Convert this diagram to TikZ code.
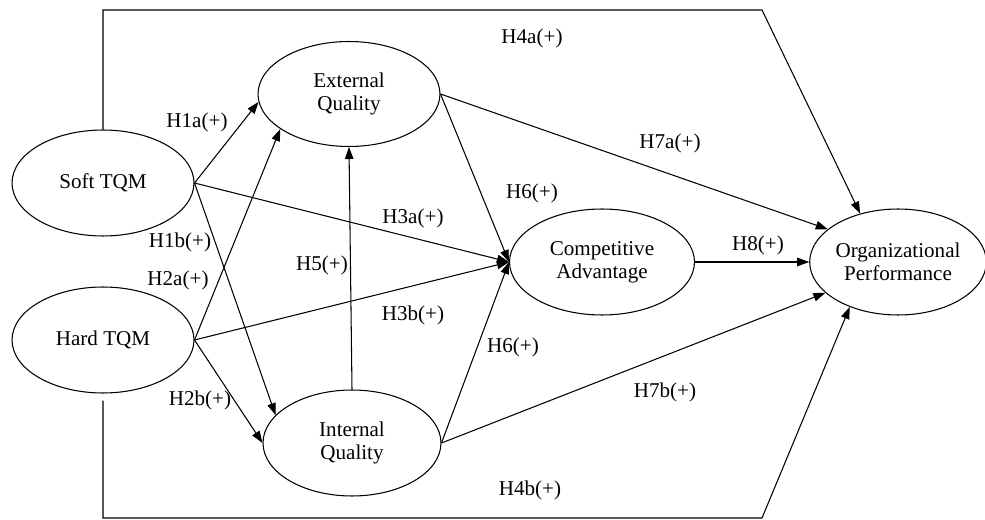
\documentclass[tikz,border=0pt]{standalone}
\usepackage{fontspec}
\setmainfont{Liberation Serif}
\usetikzlibrary{arrows.meta,shapes.geometric}
\tikzset{
    tqmconstruct/.style={draw, ellipse, align=center, inner sep=0pt, line width=0.6pt, minimum width=3.64cm, minimum height=2.12cm, font=\fontsize{12}{13}\selectfont},
    tqmarrow/.style={draw, -{Triangle[length=2.4mm,width=1.7mm]}, line width=0.6pt},
    tqmline/.style={draw, line width=0.6pt},
    tqmlabel/.style={font=\fontsize{12}{13}\selectfont, inner sep=0pt}
}

\begin{document}
\begin{tikzpicture}[x=0.02cm, y=-0.02cm]
    \useasboundingbox (0,0) rectangle (985,520);

    \node[tqmconstruct] (soft) at (103,183) {Soft TQM};
    \node[tqmconstruct] (hard) at (103,340) {Hard TQM};
    \node[tqmconstruct, minimum height=2.1cm] (ext) at (349,94) {External\\Quality};
    \node[tqmconstruct, minimum width=3.56cm] (int) at (352,443) {Internal\\Quality};
    \node[tqmconstruct, minimum width=3.7cm] (comp) at (602,262) {Competitive\\Advantage};
    \node[tqmconstruct, minimum width=3.4cm] (org) at (898,262) {Organizational\\Performance};

    \coordinate (topcorner) at (762,10);
    \coordinate (bottomcorner) at (762,518);

    \draw[tqmarrow] (soft.north) |- (topcorner) -- (org.128);
    \draw[tqmarrow, shorten <=0.14cm] (hard.south) |- (bottomcorner) -- (org.223);
    \draw[tqmarrow] (soft.east) -- (ext.185);
    \draw[tqmarrow] (hard.east) -- (ext.207);
    \draw[tqmarrow] (soft.east) -- (int.160);
    \draw[tqmarrow] (hard.east) -- (int.west);
    \draw[tqmarrow] (soft.east) -- (comp.west);
    \draw[tqmarrow] (hard.east) -- (comp.west);
    \draw[tqmarrow] (int.north) -- (ext.south);
    \draw[tqmarrow] (ext.east) -- (comp.west);
    \draw[tqmarrow] (int.east) -- (comp.west);
    \draw[tqmarrow] (ext.east) -- (org.155);
    \draw[tqmarrow] (int.east) -- (org.203);
    \draw[tqmarrow] (comp.east) -- (org.west);

    \node[tqmlabel] (h4a) at (532,38) {H4a(+)};
    \node[tqmlabel] (h1a) at (197,122) {H1a(+)};
    \node[tqmlabel] (h1b) at (180,242) {H1b(+)};
    \node[tqmlabel] (h2a) at (178,280) {H2a(+)};
    \node[tqmlabel] (h2b) at (200,400) {H2b(+)};
    \node[tqmlabel] (h5) at (322,265) {H5(+)};
    \node[tqmlabel] (h3a) at (413,218) {H3a(+)};
    \node[tqmlabel] (h3b) at (413,315) {H3b(+)};
    \node[tqmlabel] (h6a) at (532,193) {H6(+)};
    \node[tqmlabel] (h6b) at (513,347) {H6(+)};
    \node[tqmlabel] (h7a) at (670,143) {H7a(+)};
    \node[tqmlabel] (h7b) at (665,392) {H7b(+)};
    \node[tqmlabel] (h8) at (758,245) {H8(+)};
    \node[tqmlabel] (h4b) at (530,490) {H4b(+)};
\end{tikzpicture}
\end{document}
